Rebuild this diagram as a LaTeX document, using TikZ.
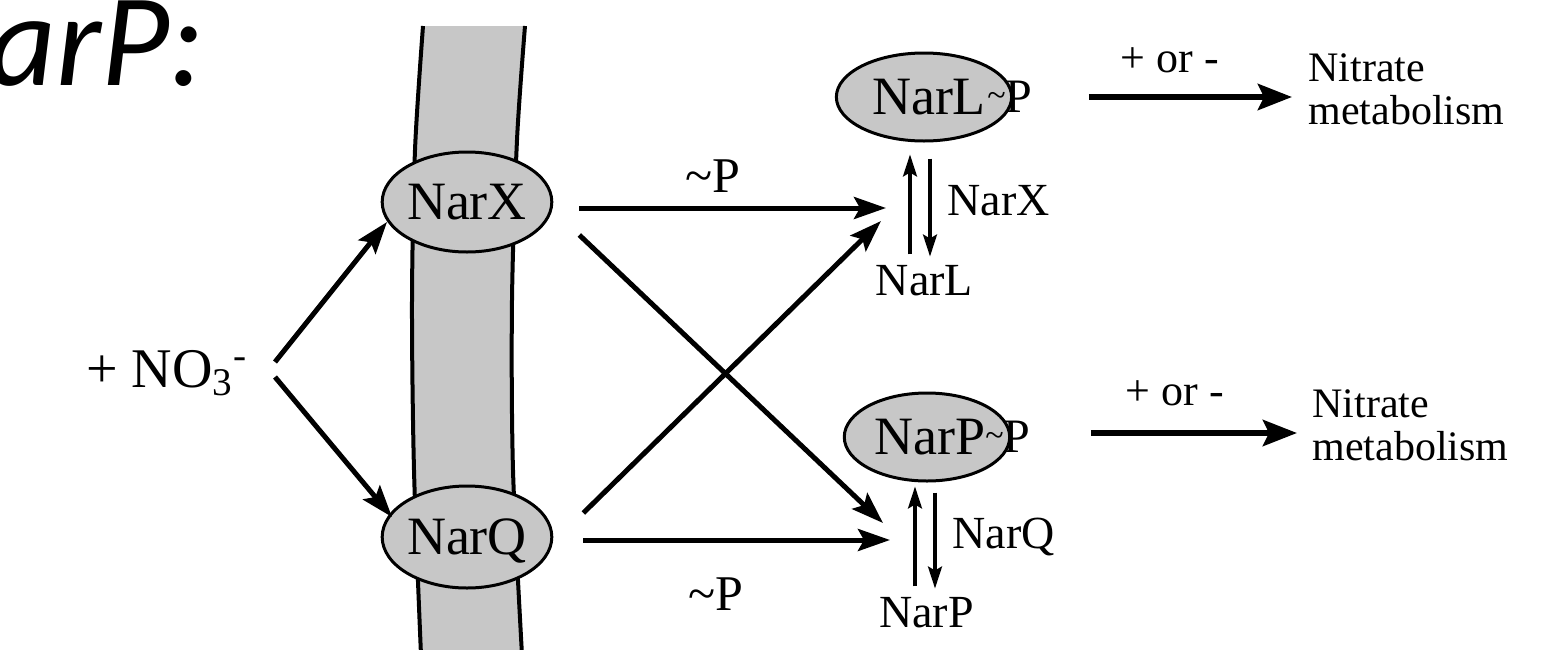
\documentclass[tikz,border=0pt]{standalone}
\usepackage{fontspec}
\setmainfont{Liberation Serif}
\newfontfamily\titlefont{Carlito}
\usetikzlibrary{arrows.meta,shapes.geometric}
\newcommand{\midtilde}{\raisebox{3pt}{\fontsize{17}{17}\selectfont\textasciitilde}}

\begin{document}
\begin{tikzpicture}[x=0.5pt,y=-0.5pt,
  membrane/.style={fill=black!22},
  edge/.style={line width=2pt},
  prot/.style={ellipse, draw, line width=1.5pt, fill=black!22, inner sep=0pt,
    text depth=0pt, font=\fontsize{27}{27}\selectfont},
  lab/.style={inner sep=0pt, font=\fontsize{23}{23}\selectfont},
  plab/.style={inner sep=0pt, font=\fontsize{25}{25}\selectfont},
  small/.style={inner sep=0pt, font=\fontsize{21}{21.5}\selectfont},
  arr/.style={line width=2.5pt, -{Stealth[length=16pt,width=11pt,inset=3pt]}},
  dbl/.style={line width=1.6pt, -{Stealth[length=11pt,width=7pt,inset=2pt]}},
  big/.style={line width=3pt, -{Stealth[length=17pt,width=13pt,inset=3pt]}}]
\useasboundingbox (0,0) rectangle (1554,649);

% heading fragment
\node[anchor=base west, inner sep=0pt, font=\titlefont\itshape\fontsize{66}{66}\selectfont] (title) at (-12,85) {arP:};

% membrane band
\fill[membrane] plot[smooth] coordinates {(423,26) (415,150) (412,300) (414,470) (421,655)}
  -- plot[smooth] coordinates {(522,655) (513,470) (512,300) (517,140) (525,26)} -- cycle;
\draw[edge] plot[smooth] coordinates {(423,26) (415,150) (412,300) (414,470) (421,655)};
\draw[edge] plot[smooth] coordinates {(525,26) (517,140) (512,300) (513,470) (522,655)};

% sensor kinases in the membrane
\node[prot, minimum width=70pt, minimum height=50pt] (NarX) at (467,202) {NarX};
\node[prot, minimum width=70pt, minimum height=51pt] (NarQ) at (467,537) {NarQ};

% nitrate signal
\node[anchor=base west, inner sep=0pt, font=\fontsize{28}{28}\selectfont] (NO3) at (86,387)
  {+ NO\textsubscript{3}\textsuperscript{-}};
\coordinate (no3a) at (275,362);
\coordinate (no3b) at (275,377);
\coordinate (inX) at (387,222);
\coordinate (inQ) at (392,517);
\draw[arr] (no3a) -- (inX);
\draw[arr] (no3b) -- (inQ);

% response regulators
\node[prot, minimum width=71pt, minimum height=44pt] (NarL) at (924,97) {\hspace*{5pt}NarL};
\node[anchor=base west, inner sep=0pt, font=\fontsize{24}{24}\selectfont] (NarLP) at (987,112)
  {\midtilde P};
\node[prot, minimum width=70pt, minimum height=44pt] (NarP) at (927,437) {\hspace*{3pt}NarP};
\node[anchor=base west, inner sep=0pt, font=\fontsize{24}{24}\selectfont] (NarPP) at (985,452)
  {\midtilde P};

\node[lab, anchor=base] (NarLlow) at (924.5,295) {NarL};
\node[lab, anchor=base] (NarPlow) at (926.5,627) {NarP};
\node[lab, anchor=base west] (kX) at (947,215) {NarX};
\node[lab, anchor=base west] (kQ) at (952,548) {NarQ};

% phosphorylation / dephosphorylation
\draw[dbl, shorten <=5pt, shorten >=6pt] (910,0 |- NarLlow.north) -- (910,0 |- NarL.south);
\draw[dbl, shorten <=8pt, shorten >=4pt] (930,0 |- NarL.south) -- (930,0 |- NarLlow.north);
\draw[dbl, shorten <=5pt, shorten >=2pt] (915,0 |- NarPlow.north) -- (915,0 |- NarP.south);
\draw[dbl, shorten <=5pt, shorten >=4pt] (935,0 |- NarP.south) -- (935,0 |- NarPlow.north);

% phosphotransfer
\coordinate (tL1) at (886,208);
\coordinate (tL2) at (881,221);
\coordinate (tP1) at (883,523);
\coordinate (tP2) at (890,540);
\draw[arr] ([xshift=13pt,yshift=-3pt]NarX.east) -- (tL1);
\draw[arr] ([xshift=13pt,yshift=-16.5pt]NarX.east) -- (tP1);
\draw[arr] ([xshift=15pt,yshift=12pt]NarQ.east) -- (tL2);
\draw[arr] ([xshift=15pt,yshift=-1.5pt]NarQ.east) -- (tP2);
\node[plab, anchor=base west] (pX) at (685,192) {\textasciitilde P};
\node[plab, anchor=base west] (pQ) at (688,610) {\textasciitilde P};

% regulation of nitrate metabolism
\node[small, anchor=north west, align=left] (metL) at (1308,53) {Nitrate\\metabolism};
\node[small, anchor=north west, align=left] (metP) at (1312,389) {Nitrate\\metabolism};
\coordinate (eL) at (1292,97);
\coordinate (eP) at (1297,433);
\draw[big] ([xshift=28pt]NarLP.east |- eL) -- (eL);
\draw[big] ([xshift=30pt]NarPP.east |- eP) -- (eP);
\node[small, anchor=base, font=\fontsize{22}{22}\selectfont] (sL) at (1170,72) {+ or -};
\node[small, anchor=base, font=\fontsize{22}{22}\selectfont] (sP) at (1175,405) {+ or -};
\end{tikzpicture}
\end{document}
